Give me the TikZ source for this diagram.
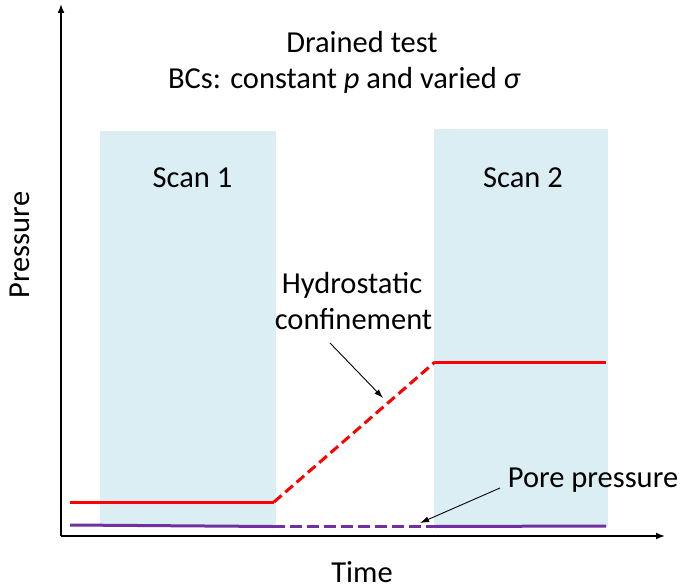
\documentclass[tikz,border=0pt]{standalone}
\usepackage{fontspec}
\setmainfont{Carlito}
\usetikzlibrary{arrows.meta}
\definecolor{scanblue}{HTML}{DAEEF3}
\definecolor{pred}{HTML}{FF0000}
\definecolor{ppurple}{HTML}{7030A0}
\tikzset{
  scanbox/.style={fill=scanblue, draw=none},
  axisline/.style={line width=1.6pt, -{Latex[length=9pt,width=7pt]}},
  conf/.style={pred, line width=3pt},
  pore/.style={ppurple, line width=3pt},
  dashedconf/.style={conf, dash pattern=on 10pt off 5pt},
  dashedpore/.style={pore, dash pattern=on 12pt off 5pt},
  callout/.style={line width=0.9pt, -{Latex[length=9pt,width=6pt]}},
  lbl/.style={font=\fontsize{30.5}{36}\selectfont, inner sep=0pt, anchor=base},
}
\begin{document}
\begin{tikzpicture}[x=1pt,y=-1pt]
\useasboundingbox (0,0) rectangle (685,588);
% scan windows
\node[scanbox, minimum width=176pt, minimum height=396pt, anchor=north west, inner sep=0pt] (s1) at (100,131) {};
\node[scanbox, minimum width=174pt, minimum height=398pt, anchor=north west, inner sep=0pt] (s2) at (434,129) {};
% axes
\coordinate (o) at (61,536);
\coordinate (ytop) at (61,4);
\coordinate (xend) at (665,536);
\draw[axisline] (o) -- (ytop);
\draw[axisline] (o) -- (xend);
% confinement
\coordinate (c0) at (70,502);
\coordinate (c1) at (274,502);
\coordinate (c2) at (435,362);
\coordinate (c3) at (606,362);
\draw[conf] (c0) -- (c1);
\draw[dashedconf] (c1) -- (c2);
\draw[conf] (c2) -- (c3);
% pore pressure
\coordinate (p0) at (70,525);
\coordinate (p1) at (273,526.5);
\coordinate (p2) at (435,526.5);
\coordinate (p3) at (606,526);
\draw[pore] (p0) -- (p1);
\draw[dashedpore] (p1) -- (p2);
\draw[pore] (p2) -- (p3);
% texts
\node[lbl] (t1) at (362,53) {Drained test};
\node[lbl] (t2) at (344.5,89) {BCs: constant \textit{p} and varied \textit{σ}};
\node[lbl] (sc1) at (192.5,188) {Scan 1};
\node[lbl] (sc2) at (523,188) {Scan 2};
\node[lbl] (h1) at (352,293) {Hydrostatic};
\node[lbl] (h2) at (353.5,329) {confinement};
\node[lbl] (pp) at (593,487) {Pore pressure};
\node[lbl] (tm) at (362,582) {Time};
\node[lbl, rotate=90, anchor=center] (pr) at (20,245) {Pressure};
% callouts
\coordinate (ha) at (330,343);
\coordinate (hb) at (383,398);
\draw[callout] (ha) -- (hb);
\coordinate (pa) at (500,488);
\coordinate (pb) at (420,523);
\draw[callout] (pa) -- (pb);
\end{tikzpicture}
\end{document}
